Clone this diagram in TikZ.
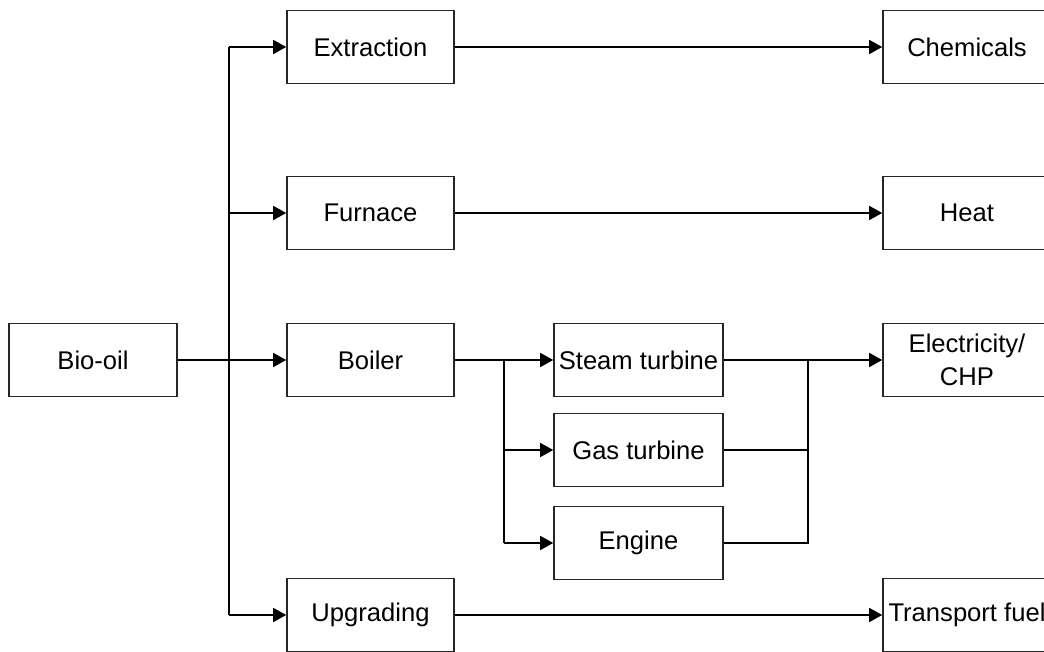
\documentclass[tikz,border=0pt]{standalone}
\usepackage{fontspec}
\setmainfont{Liberation Sans}
\usetikzlibrary{arrows.meta}
\begin{document}
\begin{tikzpicture}[x=1pt,y=-1pt,
  box/.style={draw=black!85,line width=1.6pt,rectangle,inner sep=0pt,
    minimum height=73pt,minimum width=167pt,align=center,
    font=\fontsize{25.6}{33}\selectfont},
  link/.style={line width=1.6pt,draw=black},
  arr/.style={link,-{Triangle[length=13pt,width=14pt]}}]
\clip (0,0) rectangle (1044,652);
\useasboundingbox (0,0) rectangle (1044,652);
% nodes
\node[box,minimum width=168pt] (bio) at (93,360) {Bio-oil};
\node[box] (extr) at (370.5,47) {Extraction};
\node[box] (furn) at (370.5,213) {Furnace};
\node[box] (boil) at (370.5,360) {Boiler};
\node[box] (upg) at (370.5,615) {Upgrading};
\node[box,minimum width=169pt] (steam) at (638.5,360) {Steam turbine};
\node[box,minimum width=169pt] (gas) at (638.5,450) {Gas turbine};
\node[box,minimum width=169pt] (eng) at (638.5,543) {Engine};
\node[box,minimum width=168pt] (chem) at (967,47) {Chemicals};
\node[box,minimum width=168pt] (heat) at (967,213) {Heat};
\node[box,minimum width=168pt] (elec) at (967,360) {Electricity/\\CHP};
\node[box,minimum width=168pt] (fuel) at (967,615) {Transport fuel};
% junction coordinates
\coordinate (ttop) at (229,47);
\coordinate (tbot) at (229,615);
\coordinate (lj) at (504,360);
\coordinate (rj) at (808,360);
% trunk
\draw[arr] (bio) -- (boil);
\draw[link] (ttop) -- (tbot);
\draw[arr] (ttop) -- (extr);
\draw[arr] (ttop |- furn) -- (furn);
\draw[arr] (tbot) -- (upg);
% straight outputs
\draw[arr] (extr) -- (chem);
\draw[arr] (furn) -- (heat);
\draw[arr] (upg) -- (fuel);
% boiler branch
\draw[arr] (boil) -- (steam);
\draw[link] (lj) -- (lj |- eng);
\draw[arr] (lj |- gas) -- (gas);
\draw[arr] (lj |- eng) -- (eng);
% merge
\draw[arr] (steam) -- (elec);
\draw[link] (gas.east) -- (rj |- gas) -- (rj);
\draw[link] (eng.east) -- (rj |- eng) -- (rj |- gas);
\end{tikzpicture}
\end{document}
